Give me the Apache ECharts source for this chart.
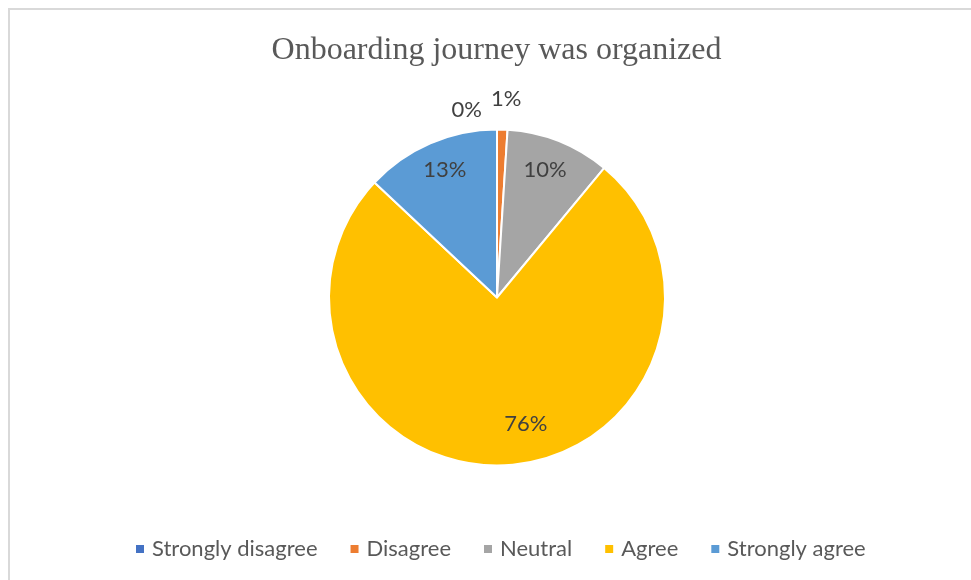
<!DOCTYPE html>
<html>
<head>
<meta charset="utf-8">
<title>Onboarding journey was organized</title>
<script src="https://cdn.jsdelivr.net/npm/echarts@6/dist/echarts.min.js"></script>
<style>
  html, body { margin: 0; padding: 0; background: #ffffff; }
  #chart { width: 971px; height: 580px; }
</style>
</head>
<body>
<div id="chart"></div>
<script>
// Survey answers and their share of respondents (%)
const categories = ['Strongly disagree', 'Disagree', 'Neutral', 'Agree', 'Strongly agree'];
const shares = [0, 1, 10, 76, 13];
const sliceColors = ['#4472C4', '#ED7D31', '#A5A5A5', '#FFC000', '#5B9BD5'];

// Slices narrower than this get their label outside the pie
const outsideLabelBelow = 5;

// Small label nudges (px) so labels sit clear of each other
const labelNudge = {
  'Strongly disagree': [-10, 0],
  'Disagree': [-17, -11],
  'Neutral': [-3, 2],
  'Agree': [20, -12],
  'Strongly agree': [3, 0]
};

const labelFont = 'Lato';
const center = [497, 297.5];
const radius = 168;

const mainData = categories.map((name, i) => ({
  name: name,
  value: shares[i],
  itemStyle: { color: sliceColors[i] },
  label: { show: shares[i] < outsideLabelBelow }
}));

const labelData = categories.map((name, i) => ({
  name: name,
  value: shares[i],
  label: { show: shares[i] >= outsideLabelBelow }
}));

function nudge(params) {
  const n = labelNudge[categories[params.dataIndex]];
  return n ? { dx: n[0], dy: n[1] } : {};
}

const chart = echarts.init(document.getElementById('chart'), null, { renderer: 'canvas' });

chart.setOption({
  animation: false,
  backgroundColor: '#ffffff',
  graphic: [{
    type: 'rect',
    silent: true,
    shape: { x: 9, y: 9, width: 1000, height: 1000 },
    style: { fill: 'none', stroke: '#d9d9d9', lineWidth: 2 }
  }],
  title: {
    text: 'Onboarding journey was organized',
    left: 496.5,
    textAlign: 'center',
    top: 35,
    padding: 0,
    textStyle: {
      fontFamily: 'Liberation Serif',
      fontSize: 32,
      fontWeight: 'normal',
      color: '#595959'
    }
  },
  legend: {
    data: categories,
    left: 136,
    top: 538,
    padding: 0,
    icon: 'rect',
    itemWidth: 8,
    itemHeight: 8,
    itemGap: 33,
    selectedMode: false,
    itemStyle: { borderWidth: 0 },
    textStyle: {
      fontFamily: labelFont,
      fontSize: 22,
      color: '#595959',
      padding: [0, 0, 0, 3]
    }
  },
  series: [
    {
      name: 'Answers',
      type: 'pie',
      center: center,
      radius: radius,
      startAngle: 90,
      clockwise: true,
      avoidLabelOverlap: false,
      silent: true,
      itemStyle: { borderColor: '#ffffff', borderWidth: 2 },
      label: {
        position: 'outside',
        formatter: '{c}%',
        fontFamily: labelFont,
        fontSize: 22,
        color: '#404040'
      },
      labelLine: { show: false, length: 20, length2: 0 },
      labelLayout: nudge,
      data: mainData
    },
    {
      name: 'Answer labels',
      type: 'pie',
      center: center,
      radius: [102, 170],
      startAngle: 90,
      clockwise: true,
      silent: true,
      avoidLabelOverlap: false,
      itemStyle: { color: 'rgba(0,0,0,0)', borderWidth: 0 },
      label: {
        position: 'inside',
        formatter: '{c}%',
        fontFamily: labelFont,
        fontSize: 22,
        color: '#404040'
      },
      labelLine: { show: false },
      labelLayout: nudge,
      data: labelData
    }
  ]
});
</script>
</body>
</html>
